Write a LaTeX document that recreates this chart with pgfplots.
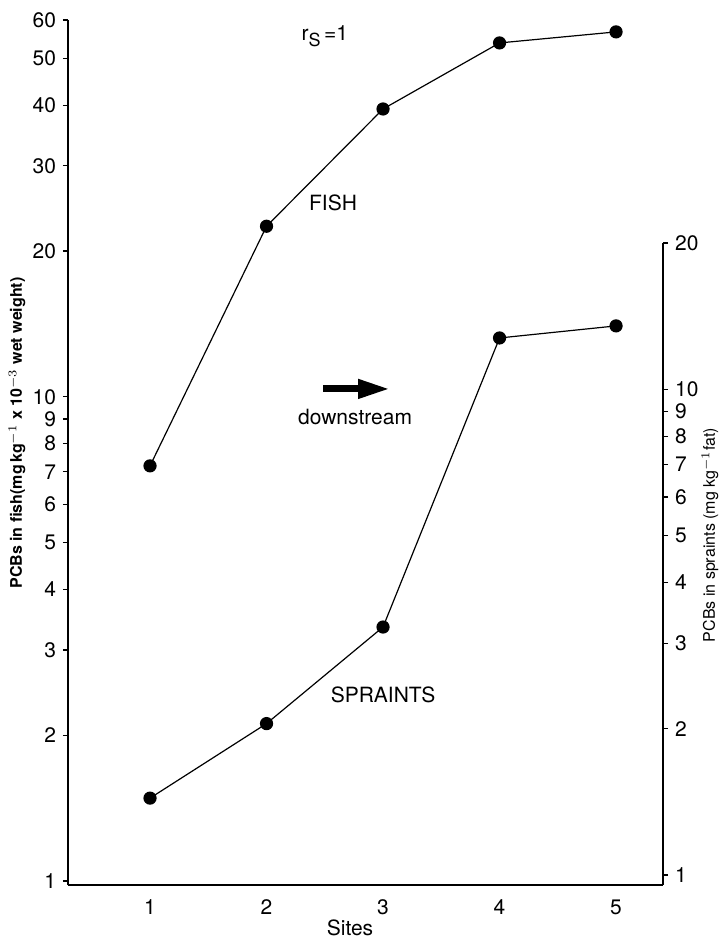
\documentclass[border=0pt]{standalone}
\usepackage{fontspec}
\setmainfont{TeX Gyre Heros}
\usepackage{pgfplots}
\pgfplotsset{compat=1.18}
\usetikzlibrary{arrows.meta}

% fish: PCBs in fish, spraint: PCBs in spraints, by site
\pgfplotstableread{
site fish
1 7.2
2 22.5
3 39.3
4 53.8
5 56.7
}\fishdata
\pgfplotstableread{
site spraint
1 1.44
2 2.05
3 3.24
4 12.75
5 13.5
}\spraintdata

\pgfplotsset{
  siteaxis/.style={
    at={(0,0)}, anchor=south west,
    scale only axis,
    width=297.5pt,
    xmin=0.296, xmax=5.403,
    yminorticks=false,
    axis line style={line width=0.8pt},
    tick align=outside,
    major tick length=2.5pt,
    tick style={line width=0.6pt, black},
    tick label style={font=\fontsize{10.5}{12}\selectfont},
    /pgf/number format/assume math mode=true,
    clip=false,
  },
  pts/.style={black, line width=0.6pt, mark=*, mark size=3pt,
    mark options={fill=black}},
}

\begin{document}
\begin{tikzpicture}
\begin{axis}[
  ymode=log,
  siteaxis,
  height=432.5pt,
  ymin=0.981, ymax=60,
  axis x line*=bottom, axis y line*=left,
  xtick={1,2,3,4,5},
  xtick style={draw=none},
  xticklabel style={yshift=-1.5pt},
  ytick={1,2,3,4,5,6,7,8,9,10,20,30,40,50,60},
  yticklabels={1,2,3,4,5,6,7,8,9,10,20,30,40,50,60},
  xlabel={Sites},
  xlabel style={at={(axis description cs:0.474,-0.0497)}, anchor=center,
    font=\fontsize{10.5}{12}\selectfont},
  ylabel={PCBs in fish(mg\,kg$^{-1}$ x 10$^{-3}$ wet weight)},
  every axis y label/.style={at={(axis description cs:-0.0857,0.5225)},
    rotate=90, anchor=center, font=\fontsize{8}{9}\selectfont\bfseries},
]
\addplot[pts] table[x=site, y=fish] {\fishdata};
\node[font=\fontsize{10.5}{12}\selectfont] at (axis cs:2.50,55.6)
  {r\raisebox{-0.5ex}{\fontsize{9}{10}\selectfont S}\,=1};
\node[font=\fontsize{10.5}{12}\selectfont] at (axis cs:2.571,25.1) {FISH};
\draw[line width=3.5pt, -{Triangle[length=16pt, width=9pt]}]
  (axis cs:2.485,10.38) -- (axis cs:3.06,10.38);
\node[font=\fontsize{10.5}{12}\selectfont] at (axis cs:2.76,9.08) {downstream};
\node[font=\fontsize{10.5}{12}\selectfont] at (axis cs:3.0,2.42) {SPRAINTS};
\end{axis}

\begin{axis}[
  ymode=log,
  siteaxis,
  height=321pt,
  ymin=0.954, ymax=20,
  axis x line=none, axis y line*=right,
  ytick={1,2,3,4,5,6,7,8,9,10,20},
  yticklabels={1,2,3,4,5,6,7,8,9,10,20},
  ylabel={PCBs in spraints (mg kg$^{-1}$fat)},
  every axis y label/.style={at={(axis description cs:1.079,0.545)},
    rotate=90, anchor=center, font=\fontsize{8}{9}\selectfont},
]
\addplot[pts] table[x=site, y=spraint] {\spraintdata};
\end{axis}

\pgfresetboundingbox
\useasboundingbox (-34pt,-28pt) rectangle (326.5pt,442.5pt);
\end{tikzpicture}
\end{document}
